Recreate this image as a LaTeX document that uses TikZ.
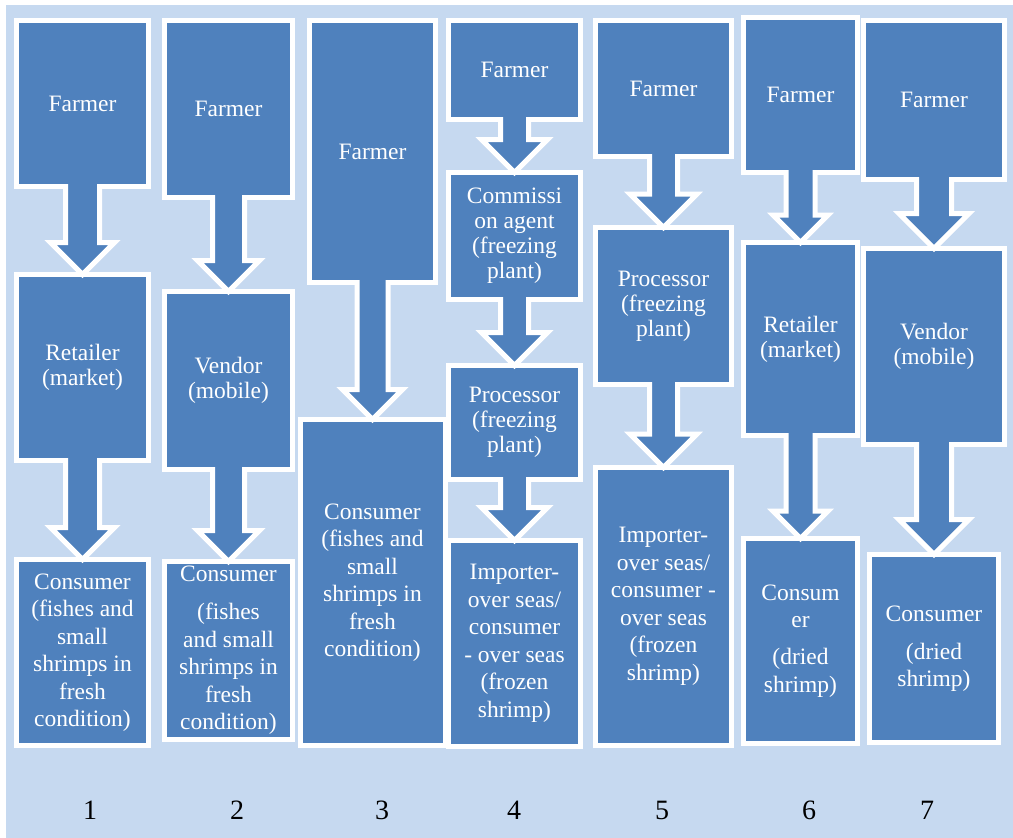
\documentclass[tikz,border=0pt]{standalone}
\usepackage{fontspec}
\setmainfont{Liberation Serif}
\usetikzlibrary{positioning,calc}
\definecolor{chainbg}{RGB}{198,217,240}
\definecolor{chainblue}{RGB}{79,129,189}

\begin{document}
\begin{tikzpicture}[x=1pt, y=-1pt,
	   box/.style 2 args={draw=white, line width=5pt, fill=chainblue, text=white, align=center,
	     outer sep=0pt, inner sep=2pt, minimum width=#1pt, minimum height=#2pt,
	     font=\fontsize{23.5}{27.5}\selectfont},
	   tight/.style={font=\fontsize{23.5}{25}\selectfont},
	   flow/.style 2 args={fill=chainblue, draw=white, line width=5pt,
	     to path={let \p1=(\tikztostart), \p2=(\tikztotarget) in
	       (\x1-#1pt,\y1+2.5pt) -- (\x1-#1pt,\y2+#2pt) -- (\x1-#2pt,\y2+#2pt) -- (\x1,\y2)
	       -- (\x1+#2pt,\y2+#2pt) -- (\x1+#1pt,\y2+#2pt) -- (\x1+#1pt,\y1+2.5pt)}},
	   num/.style={font=\fontsize{28}{30}\selectfont}]
	  \useasboundingbox (0,0) rectangle (1013,838);
	  \fill[white] (0,0) rectangle (1013,838);
	  \fill[chainbg] (6,5) rectangle (1013,838);

	  \node[box={132}{166}, anchor=north] (f1) at (82.5,20.5) {Farmer};
	  \node[box={132}{186}, tight, below=88pt of f1] (r1) {Retailer\\(market)};
	  \node[box={132}{186}, below=99pt of r1] (c1) {Consumer\\(fishes and\\small\\shrimps in\\fresh\\condition)};

	  \node[box={128}{177}, anchor=north] (f2) at (228.5,20.5) {Farmer};
	  \node[box={128}{178}, tight, below=94pt of f2] (v2) {Vendor\\(mobile)};
	  \node[box={128}{178}, below=92pt of v2] (c2) {Consumer\\[10.5pt](fishes\\and small\\shrimps in\\fresh\\condition)};

	  \node[box={126}{262}, anchor=north] (f3) at (372.5,20.5) {Farmer};
	  \node[box={145}{326}, below=137pt of f3] (c3) {Consumer\\(fishes and\\small\\shrimps in\\fresh\\condition)};

	  \node[box={132}{99}, anchor=north] (f4) at (514.5,20.5) {Farmer};
	  \node[box={132}{127}, tight, below=53pt of f4] (a4) {Commissi\\on agent\\(freezing\\plant)};
	  \node[box={132}{114}, tight, below=66pt of a4] (p4) {Processor\\(freezing\\plant)};
	  \node[box={132}{206}, below=61pt of p4] (i4) {Importer-\\over seas/\\consumer\\- over seas\\(frozen\\shrimp)};

	  \node[box={136}{136}, anchor=north] (f5) at (663.5,20.5) {Farmer};
	  \node[box={136}{157}, tight, below=71pt of f5] (p5) {Processor\\(freezing\\plant)};
	  \node[box={136}{278}, below=83pt of p5] (i5) {Importer-\\over seas/\\consumer -\\over seas\\(frozen\\shrimp)};

	  \node[box={114}{155}, anchor=north] (f6) at (800.5,17.5) {Farmer};
	  \node[box={114}{193}, tight, below=70pt of f6] (r6) {Retailer\\(market)};
	  \node[box={114}{205}, below=103pt of r6] (c6) {Consum\\er\\[9.5pt](dried\\shrimp)};

	  \node[box={141}{159}, anchor=north] (f7) at (934,20.5) {Farmer};
	  \node[box={141}{196}, tight, below=69pt of f7] (v7) {Vendor\\(mobile)};
	  \node[box={129}{188}, below=110pt of v7] (c7) {Consumer\\[10.5pt](dried\\shrimp)};

	  \draw[flow={17}{32}] (f1.south) to (r1.north);
	  \draw[flow={17}{32}] (r1.south) to (c1.north);
	  \draw[flow={16}{31}] (f2.south) to (v2.north);
	  \draw[flow={16}{31}] (v2.south) to (c2.north);
	  \draw[flow={15.5}{30}] (f3.south) to (c3.north);
	  \draw[flow={14}{33}] (f4.south) to (a4.north);
	  \draw[flow={14}{33}] (a4.south) to (p4.north);
	  \draw[flow={14}{33}] (p4.south) to (i4.north);
	  \draw[flow={14}{33.5}] (f5.south) to (p5.north);
	  \draw[flow={14}{33.5}] (p5.south) to (i5.north);
	  \draw[flow={14.5}{27.5}] (f6.south) to (r6.north);
	  \draw[flow={14.5}{27.5}] (r6.south) to (c6.north);
	  \draw[flow={17.5}{35}] (f7.south) to (v7.north);
	  \draw[flow={17.5}{35}] (v7.south) to (c7.north);

	  \foreach \i/\x in {1/90,2/237,3/382,4/514,5/662,6/809,7/927}
	    \node[num] (n\i) at (\x,810) {\i};
	\end{tikzpicture}
\end{document}
